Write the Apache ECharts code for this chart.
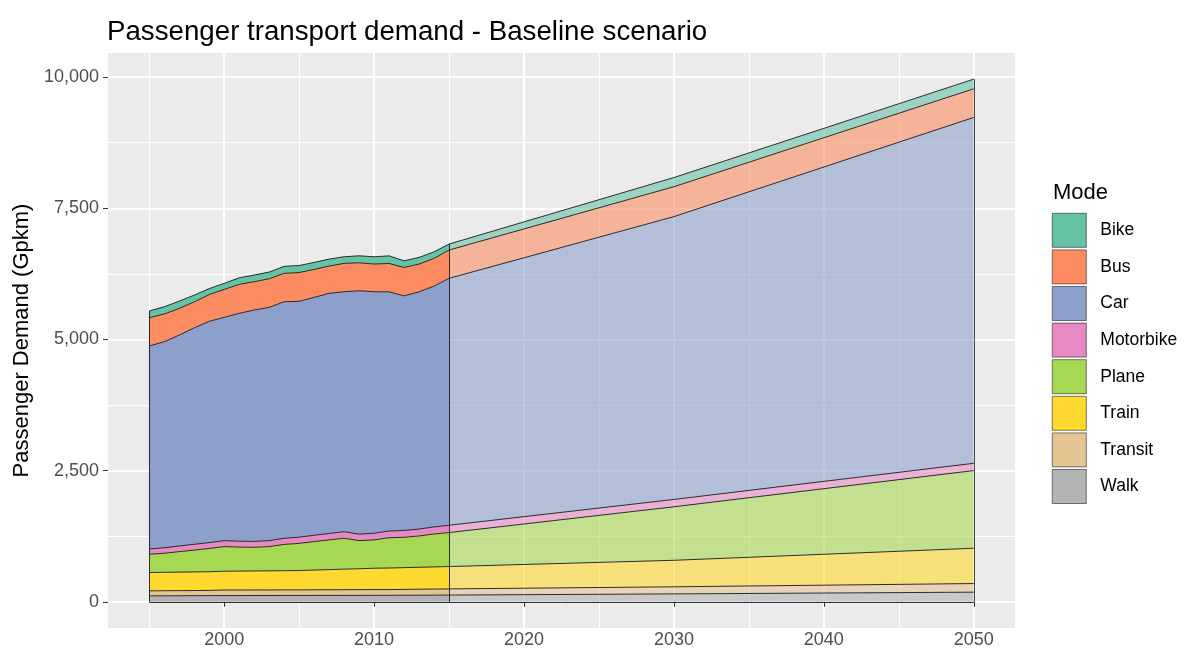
<!DOCTYPE html>
<html>
<head>
<meta charset="utf-8">
<script src="https://cdn.jsdelivr.net/npm/echarts@6/dist/echarts.min.js"></script>
<style>
html,body{margin:0;padding:0;background:#fff;}
#chart{width:1187px;height:656px;}
</style>
</head>
<body>
<div id="chart"></div>
<script>
// ---- data ----
const histYears = [1995,1996,1997,1998,1999,2000,2001,2002,2003,2004,2005,2006,2007,2008,2009,2010,2011,2012,2013,2014,2015];
const projYears = [2015,2030,2050];

const walk      = [115,116,117,118,119,120,120,121,121,122,122,123,123,124,124,125,125,126,127,128,130];
const transit   = [95,96,97,98,99,106,106,106,106,106,106,107,108,108,109,110,110,112,114,116,117];
const train     = [349,351,353,355,356,358,360,362,364,366,369,376,384,392,398,406,410,414,418,422,426];
const plane     = [349,363,390,416,443,470,458,451,462,501,518,543,566,589,536,540,578,578,597,628,647];
const motorbike = [100,105,108,110,112,112,112,112,114,116,118,120,122,124,124,126,128,130,132,134,140];
const car       = [3868,3926,4019,4125,4218,4256,4342,4410,4445,4509,4495,4534,4576,4573,4638,4603,4557,4472,4521,4590,4706];
const bus       = [539,528,508,495,509,533,552,539,545,541,548,533,520,541,533,528,541,541,528,528,539];
const bike      = [128,139,139,128,114,114,126,128,128,133,134,133,133,126,133,139,145,126,128,125,114];

const walkProj      = [130,152,185];
const transitProj   = [117,135,164];
const trainProj     = [426,505,673];
const planeProj     = [647,1020,1480];
const motorbikeProj = [140,140,139];
const carProj       = [4706,5390,6591];
const busProj       = [539,570,546];
const bikeProj      = [114,175,184];

const modes = ['Bike','Bus','Car','Motorbike','Plane','Train','Transit','Walk'];
const colors = {Bike:'#66C2A5',Bus:'#FC8D62',Car:'#8DA0CB',Motorbike:'#E78AC3',Plane:'#A6D854',Train:'#FFD92F',Transit:'#E5C494',Walk:'#B3B3B3'};

const yMajor = [0,2500,5000,7500,10000];
const yMinor = [1250,3750,6250,8750];
const xMajor = [2000,2010,2020,2030,2040,2050];
const xMinor = [1995,2005,2015,2025,2035,2045];

// stacking order bottom -> top
const histSets = [['Walk',walk],['Transit',transit],['Train',train],['Plane',plane],['Motorbike',motorbike],['Car',car],['Bus',bus],['Bike',bike]];
const projSets = [['Walk',walkProj],['Transit',transitProj],['Train',trainProj],['Plane',planeProj],['Motorbike',motorbikeProj],['Car',carProj],['Bus',busProj],['Bike',bikeProj]];

function totals(sets, n){
  const t = new Array(n).fill(0);
  sets.forEach(s => s[1].forEach((v,i)=>{ t[i]+=v; }));
  return t;
}
const histTot = totals(histSets, histYears.length);
const projTot = totals(projSets, projYears.length);

const edge = {color:'#1a1a1a', width:0.9, type:'solid'};
const series = [];
// data rows are [value, year]; encode maps column 1 -> x, column 0 -> y so stacking applies to the value
histSets.forEach((s, k) => {
  const ser = {
    name: s[0], type:'line', stack:'hist', symbol:'none', showSymbol:false,
    xAxisIndex:0, yAxisIndex:0,
    encode:{x:1, y:0},
    data: histYears.map((y,i)=>[s[1][i], y]),
    color: colors[s[0]],
    lineStyle: {color:'#1a1a1a', width:0.9},
    areaStyle: {color: colors[s[0]], opacity:1},
    z: 3, animation:false
  };
  if (k === histSets.length-1) {
    ser.markLine = {
      symbol:['none','none'], silent:true, animation:false, label:{show:false},
      lineStyle: edge,
      data: [
        [{coord:[histYears[0],0]},{coord:[histYears[0],histTot[0]]}],
        [{coord:[histYears[histYears.length-1],0]},{coord:[histYears[histYears.length-1],histTot[histTot.length-1]]}],
        [{coord:[histYears[0],0]},{coord:[projYears[projYears.length-1],0]}]
      ]
    };
  }
  series.push(ser);
});
projSets.forEach((s, k) => {
  const ser = {
    name: s[0], type:'line', stack:'proj', symbol:'none', showSymbol:false,
    xAxisIndex:0, yAxisIndex:0,
    encode:{x:1, y:0},
    data: projYears.map((y,i)=>[s[1][i], y]),
    color: colors[s[0]],
    lineStyle: {color:'#1a1a1a', width:0.9},
    areaStyle: {color: colors[s[0]], opacity:0.6},
    z: 2, animation:false
  };
  if (k === projSets.length-1) {
    ser.markLine = {
      symbol:['none','none'], silent:true, animation:false, label:{show:false},
      lineStyle: {color:'#333', width:0.9, type:'solid'},
      data: [
        [{coord:[projYears[projYears.length-1],0]},{coord:[projYears[projYears.length-1],projTot[projTot.length-1]]}]
      ]
    };
  }
  series.push(ser);
});

const FONT = '"Liberation Sans", Arial, sans-serif';
const chart = echarts.init(document.getElementById('chart'), null, {renderer:'canvas'});
chart.setOption({
  animation:false,
  backgroundColor:'#ffffff',
  textStyle:{fontFamily:FONT},
  title:[
    {text:'Passenger transport demand - Baseline scenario', left:102, top:13,
     textStyle:{fontFamily:FONT, fontSize:27.7, fontWeight:'normal', color:'#000'}},
    {text:'Mode', left:1048, top:177,
     textStyle:{fontFamily:FONT, fontSize:22, fontWeight:'normal', color:'#000'}}
  ],
  legend:{
    orient:'vertical', left:1052, top:213, padding:0,
    itemWidth:34, itemHeight:34, itemGap:2, icon:'rect',
    textStyle:{fontFamily:FONT, fontSize:17.5, color:'#000', padding:[0,0,0,9]},
    data: modes.map(m => ({name:m, itemStyle:{color:colors[m], borderColor:'#222', borderWidth:0.6}}))
  },
  grid:{left:108, right:172, top:53, bottom:28, show:true, backgroundColor:'#EBEBEB', borderWidth:0, containLabel:false},
  xAxis:[
    {type:'value', min:1992.25, max:2052.75, gridIndex:0,
     axisLine:{show:false},
     axisTick:{show:true, length:5, lineStyle:{color:'#333', width:1}, customValues:xMajor},
     axisLabel:{show:true, customValues:xMajor, color:'#4D4D4D', fontSize:18, fontFamily:FONT, margin:3,
       formatter: v => String(v)},
     splitLine:{show:true, lineStyle:{color:'#ffffff', width:2}}},
    {type:'value', min:1992.25, max:2052.75, gridIndex:0, position:'bottom',
     axisLine:{show:false},
     axisTick:{show:false, customValues:xMinor},
     axisLabel:{show:false, customValues:xMinor},
     splitLine:{show:true, lineStyle:{color:'#ffffff', width:1}}}
  ],
  yAxis:[
    {type:'value', min:-498, max:10460, gridIndex:0,
     name:'Passenger Demand (Gpkm)', nameLocation:'middle', nameGap:74, nameRotate:90,
     nameTextStyle:{fontFamily:FONT, fontSize:22, color:'#000'},
     axisLine:{show:false},
     axisTick:{show:true, length:5, lineStyle:{color:'#333', width:1}, customValues:yMajor},
     axisLabel:{show:true, customValues:yMajor, color:'#4D4D4D', fontSize:18, fontFamily:FONT, margin:9,
       formatter: v => Number(v).toLocaleString('en-US')},
     splitLine:{show:true, lineStyle:{color:'#ffffff', width:2}}},
    {type:'value', min:-498, max:10460, gridIndex:0, position:'left',
     axisLine:{show:false},
     axisTick:{show:false, customValues:yMinor},
     axisLabel:{show:false, customValues:yMinor},
     splitLine:{show:true, lineStyle:{color:'#ffffff', width:1}}}
  ],
  series: series
});
</script>
</body>
</html>
